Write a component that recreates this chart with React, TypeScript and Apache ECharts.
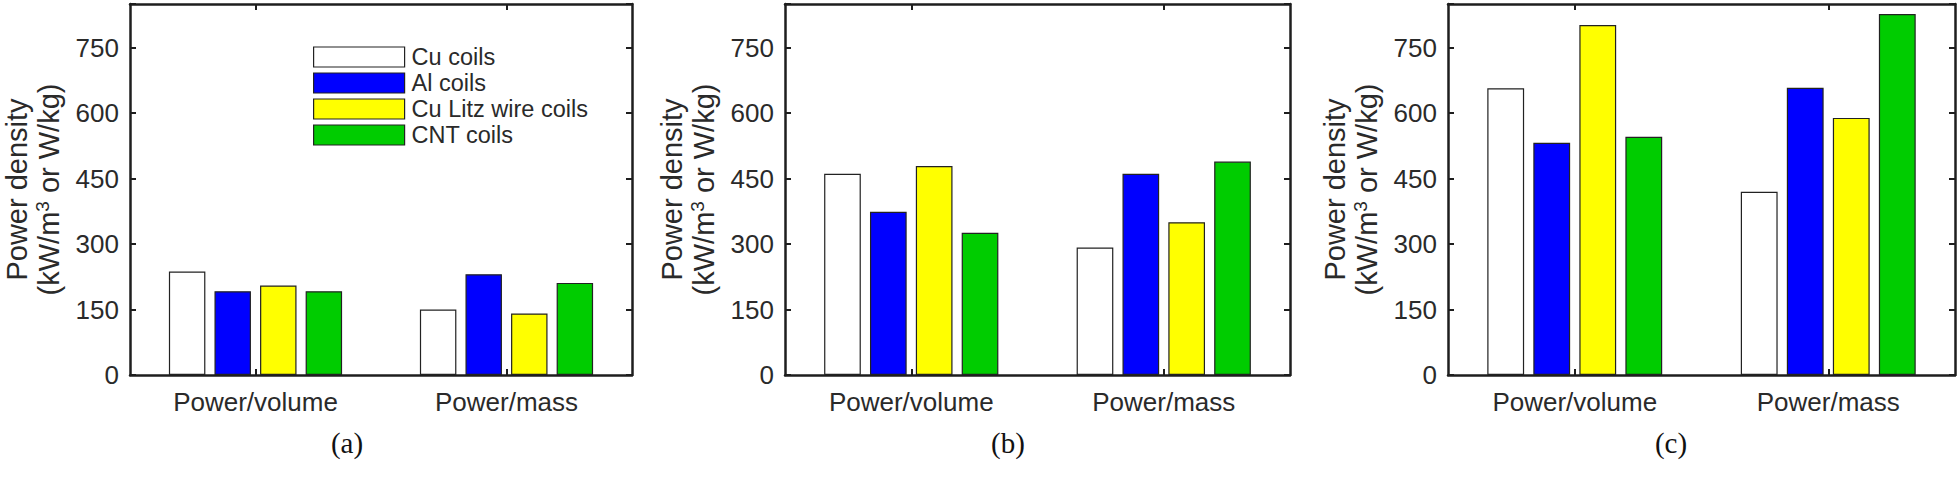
import React, { useEffect, useRef } from "react";
import * as echarts from "echarts";

// ---- data ----
const categories = ["Power/volume", "Power/mass"];
const seriesNames = ["Cu coils", "Al coils", "Cu Litz wire coils", "CNT coils"];
const seriesColors = ["#ffffff", "#0000ff", "#ffff00", "#00cc00"];

const cuA = [237, 150];
const alA = [192, 231];
const litzA = [205, 141];
const cntA = [192, 211];

const cuB = [461, 292];
const alB = [374, 461];
const litzB = [479, 350];
const cntB = [326, 489];

const cuC = [657, 420];
const alC = [532, 658];
const litzC = [802, 589];
const cntC = [546, 827];

const yMin = 0;
const yMax = 850;
const yInterval = 150;
const panelLabels = ["(a)", "(b)", "(c)"];

// ---- layout ----
const W = 1958;
const H = 479;
const panelLeft = [124, 785, 1448];
const panelWidth = [508, 505, 507];
const gridTop = 4;
const gridBottomY = 375;
const panelLabelX = [347, 1008, 1671];
const panelLabelY = 443;

const AXIS_COLOR = "#1e1e1e";
const TEXT_COLOR = "#2a2a2a";
const FONT = "'Liberation Sans', Arial, Helvetica, sans-serif";

export default function App() {
  const ref = useRef<HTMLDivElement>(null);

  useEffect(() => {
    if (!ref.current) return;
    const chart = echarts.init(ref.current, undefined, { renderer: "svg" });

    const panelData = [
      [cuA, alA, litzA, cntA],
      [cuB, alB, litzB, cntB],
      [cuC, alC, litzC, cntC],
    ];

    const grids: any[] = [];
    const xAxes: any[] = [];
    const yAxes: any[] = [];
    const series: any[] = [];

    panelData.forEach((pd, i) => {
      grids.push({
        left: panelLeft[i],
        width: panelWidth[i],
        top: gridTop,
        height: gridBottomY - gridTop,
        containLabel: false,
        show: false,
      });
      const axisLine = { show: true, onZero: false, lineStyle: { color: AXIS_COLOR, width: 2.5 } };
      const tick = { show: true, inside: true, length: 6, lineStyle: { color: AXIS_COLOR, width: 2 } };
      xAxes.push({
        type: "category",
        gridIndex: i,
        position: "bottom",
        data: categories,
        axisLine,
        axisTick: { ...tick, alignWithLabel: true },
        axisLabel: { show: true, color: TEXT_COLOR, fontSize: 26, fontFamily: FONT, margin: 14 },
        splitLine: { show: false },
      });
      xAxes.push({
        type: "category",
        gridIndex: i,
        position: "top",
        data: categories,
        axisLine,
        axisTick: { ...tick, alignWithLabel: true },
        axisLabel: { show: false },
        splitLine: { show: false },
      });
      yAxes.push({
        type: "value",
        gridIndex: i,
        position: "left",
        min: yMin,
        max: yMax,
        interval: yInterval,
        axisLine,
        axisTick: tick,
        splitLine: { show: false },
        axisLabel: {
          color: TEXT_COLOR,
          fontSize: 26,
          fontFamily: FONT,
          margin: 11,
          formatter: (v: number) => (v % yInterval === 0 ? String(v) : ""),
        },
        name: "Power density\n(kW/m{sup|3} or W/kg)",
        nameLocation: "middle",
        nameRotate: 90,
        nameGap: 65,
        nameTextStyle: {
          color: TEXT_COLOR,
          fontSize: 29,
          fontFamily: FONT,
          lineHeight: 32,
          rich: {
            sup: { fontSize: 19, fontFamily: FONT, color: TEXT_COLOR, verticalAlign: "top", lineHeight: 32, padding: [0, 0, 14, 0] },
          },
        },
      });
      yAxes.push({
        type: "value",
        gridIndex: i,
        position: "right",
        min: yMin,
        max: yMax,
        interval: yInterval,
        axisLine,
        axisTick: tick,
        splitLine: { show: false },
        axisLabel: { show: false },
      });

      pd.forEach((vals, s) => {
        series.push({
          type: "bar",
          name: seriesNames[s],
          xAxisIndex: 2 * i,
          yAxisIndex: 2 * i,
          data: vals,
          barGap: "25%",
          barCategoryGap: "31%",
          itemStyle: { color: seriesColors[s], borderColor: "#222", borderWidth: 1.2 },
          emphasis: { disabled: true },
        });
      });
    });

    chart.setOption({
      animation: false,
      backgroundColor: "#ffffff",
      grid: grids,
      xAxis: xAxes,
      yAxis: yAxes,
      series,
      legend: {
        show: true,
        data: seriesNames,
        orient: "vertical",
        left: 308,
        top: 40,
        itemWidth: 91,
        itemHeight: 20,
        itemGap: 2,
        icon: "rect",
        selectedMode: false,
        textStyle: { color: TEXT_COLOR, fontSize: 23.5, fontFamily: FONT, lineHeight: 24, padding: [0, 0, 0, 2] },
        itemStyle: { borderColor: "#222", borderWidth: 1.2 },
      },
      graphic: panelLabels.map((t, i) => ({
        type: "text",
        x: panelLabelX[i],
        y: panelLabelY,
        style: {
          text: t,
          fill: "#111",
          fontSize: 29,
          fontFamily: "'Liberation Serif', 'Times New Roman', serif",
          align: "center",
          verticalAlign: "middle",
        },
      })),
    });

    return () => chart.dispose();
  }, []);

  return (
    <div
      ref={ref}
      style={{ position: "absolute", left: 0, top: 0, width: W, height: H, background: "#fff" }}
    />
  );
}
